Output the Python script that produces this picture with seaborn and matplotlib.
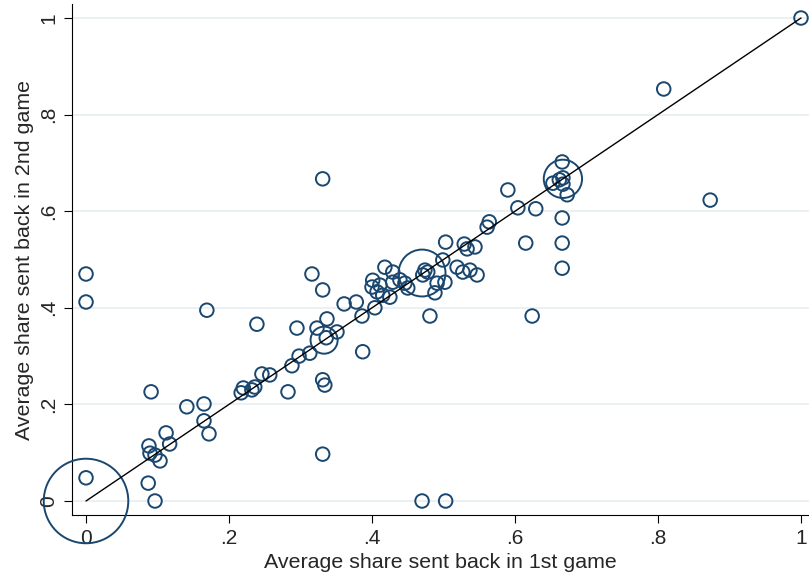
import numpy as np
import pandas as pd
import matplotlib
matplotlib.use("Agg")
import matplotlib.pyplot as plt
import seaborn as sns

# average share sent back: 1st game (x) vs 2nd game (y), with frequency weights
share_game1 = [0.000, 0.000, 0.000, 0.000, 0.091, 0.088, 0.0895, 0.0965, 0.1035, 0.112,
               0.117, 0.087, 0.0965, 0.141, 0.165, 0.165, 0.172, 0.169, 0.217, 0.220,
               0.232, 0.236, 0.239, 0.246, 0.257, 0.2825, 0.288, 0.295, 0.298, 0.313,
               0.316, 0.323, 0.331, 0.331, 0.331, 0.331, 0.334, 0.337, 0.333, 0.336,
               0.351, 0.361, 0.378, 0.386, 0.387, 0.404, 0.418, 0.429, 0.401, 0.400,
               0.411, 0.407, 0.415, 0.425, 0.429, 0.439, 0.446, 0.450, 0.470, 0.474,
               0.478, 0.471, 0.499, 0.491, 0.488, 0.519, 0.527, 0.537, 0.547, 0.481,
               0.503, 0.529, 0.533, 0.544, 0.502, 0.561, 0.564, 0.590, 0.604, 0.629,
               0.615, 0.624, 0.470, 0.503, 0.666, 0.667, 0.653, 0.662, 0.667, 0.667,
               0.673, 0.666, 0.666, 0.666, 0.808, 0.873, 1.000]
share_game2 = [0.470, 0.412, 0.048, 0.000, 0.226, 0.114, 0.099, 0.095, 0.083, 0.141,
               0.118, 0.037, 0.000, 0.195, 0.201, 0.166, 0.139, 0.395, 0.224, 0.234,
               0.230, 0.236, 0.366, 0.263, 0.261, 0.226, 0.280, 0.358, 0.300, 0.306,
               0.470, 0.358, 0.437, 0.667, 0.097, 0.251, 0.240, 0.377, 0.333, 0.338,
               0.350, 0.408, 0.412, 0.383, 0.309, 0.400, 0.484, 0.474, 0.457, 0.443,
               0.447, 0.433, 0.426, 0.422, 0.453, 0.458, 0.451, 0.441, 0.472, 0.478,
               0.474, 0.468, 0.499, 0.451, 0.431, 0.484, 0.474, 0.478, 0.468, 0.383,
               0.536, 0.532, 0.522, 0.526, 0.453, 0.567, 0.578, 0.644, 0.607, 0.605,
               0.534, 0.383, 0.000, 0.000, 0.702, 0.667, 0.658, 0.665, 0.669, 0.656,
               0.634, 0.586, 0.534, 0.482, 0.853, 0.623, 1.000]
weight = [1, 1, 1, 39, 1, 1, 1, 1, 1, 1,
          1, 1, 1, 1, 1, 1, 1, 1, 1, 1,
          1, 1, 1, 1, 1, 1, 1, 1, 1, 1,
          1, 1, 1, 1, 1, 1, 1, 1, 4, 1,
          1, 1, 1, 1, 1, 1, 1, 1, 1, 1,
          1, 1, 1, 1, 1, 1, 1, 1, 12, 1,
          1, 1, 1, 1, 1, 1, 1, 1, 1, 1,
          1, 1, 1, 1, 1, 1, 1, 1, 1, 1,
          1, 1, 1, 1, 1, 8, 1, 1, 1, 1,
          1, 1, 1, 1, 1, 1, 1]

diag = [0.0, 1.0]
ticks = [0, 0.2, 0.4, 0.6, 0.8, 1.0]
tick_labels = ["0", ".2", ".4", ".6", ".8", "1"]

navy = "#1a476f"

df = pd.DataFrame({"g1": share_game1, "g2": share_game2, "w": weight})

sns.set_style("white")
plt.rcParams['font.family'] = ['Liberation Sans', 'DejaVu Sans']

fig = plt.figure(figsize=(8.09, 5.74), dpi=100)
ax = fig.add_axes([72 / 809, 59 / 574, 737 / 809, 511 / 574])

base = 95
sns.scatterplot(data=df, x="g1", y="g2", size="w", sizes=(base, base * 39),
                size_norm=(1, 39), legend=False, ax=ax, zorder=3)
pts = ax.collections[0]
pts.set_facecolor("none")
pts.set_edgecolor(navy)
pts.set_linewidth(1.4)
pts.set_clip_on(False)

sns.lineplot(x=diag, y=diag, color="black", linewidth=1.0, ax=ax, zorder=4)

ax.set_xlim(-0.0196, 1.0112)
ax.set_ylim(-0.029, 1.029)
ax.set_xticks(ticks)
ax.set_xticklabels(tick_labels)
ax.set_yticks(ticks)
ax.set_yticklabels(tick_labels, rotation=90, va="center")
ax.yaxis.grid(True, color="#e7eef1", linewidth=1.2, zorder=0)
ax.xaxis.grid(False)
ax.set_axisbelow(True)

for side in ["top", "right"]:
    ax.spines[side].set_visible(False)
for side in ["left", "bottom"]:
    ax.spines[side].set_color("black")
    ax.spines[side].set_linewidth(0.8)

ax.tick_params(axis="both", direction="out", length=6, width=0.8, color="black",
               labelsize=15, pad=4, left=True, bottom=True)
ax.set_xlabel("Average share sent back in 1st game", fontsize=15.4, labelpad=4)
ax.set_ylabel("Average share sent back in 2nd game", fontsize=15.4, labelpad=4)

plt.savefig("out.png", dpi=100)
